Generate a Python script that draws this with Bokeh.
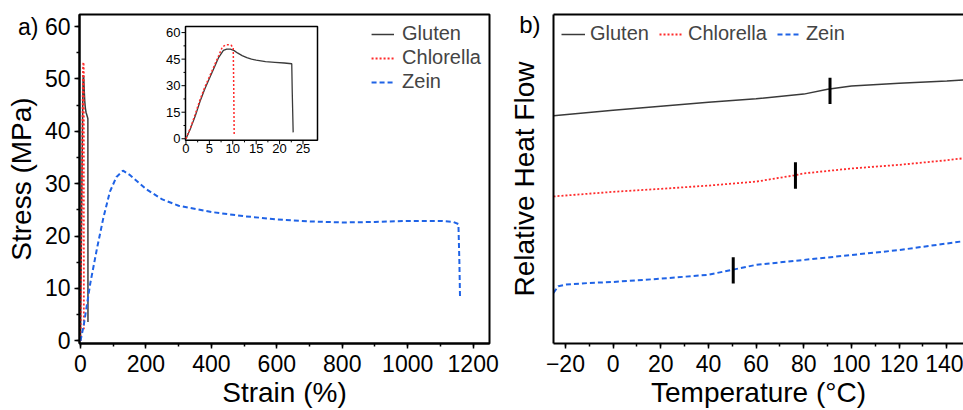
import numpy as np
from bokeh.plotting import figure
from bokeh.layouts import row
from bokeh.models import (Range1d, SingleIntervalTicker, FixedTicker, LinearAxis,
                          Legend, LegendItem)
from bokeh.core.properties import value
from bokeh.embed import file_html
from bokeh.resources import INLINE

FONT = "Liberation Sans"

# ---------------- data: tensile (panel a) ----------------
gluten_strain = [0, 1, 2, 3, 4, 5, 6, 7, 8, 8.7, 9.5, 10.3, 11, 12, 13, 14, 15, 17, 19, 21, 22.6, 22.7, 22.9]
gluten_stress = [0, 6, 13, 21, 28, 34, 40, 46, 50, 50.7, 50.6, 49.8, 48.5, 47, 45.8, 45, 44.4, 43.6, 43.2, 42.8, 42.4, 27, 3.6]

chl_strain = [0, 1, 2, 3, 4, 5, 6, 7, 7.8, 8.6, 9.6, 10.1, 10.2, 10.3]
chl_stress = [0, 6.5, 14, 22, 29, 35, 41, 47, 52, 53.2, 53.0, 51.5, 30, 2.2]

zein_strain = [0, 10, 20, 30, 50, 70, 90, 110, 130, 150, 200, 250, 300, 400, 500, 600, 700, 800,
               900, 1000, 1100, 1140, 1155, 1158, 1160]
zein_stress = [0, 3, 7, 11, 17.5, 23.5, 28.5, 31.3, 32.5, 31.7, 29, 27, 25.8, 24.6, 23.8, 23.2, 22.8, 22.6,
               22.7, 22.9, 22.9, 22.7, 22.3, 15, 8]

inset_yticks = [0, 15, 30, 45, 60]
inset_xticks = [0, 5, 10, 15, 20, 25]

panel_a_label = "a)"
panel_b_label = "b)"

# ---------------- data: DSC (panel b) ----------------
dsc_g_T = [-25, 0, 20, 40, 60, 80, 90, 100, 120, 140, 147]
dsc_g_H = [6.92, 7.09, 7.21, 7.33, 7.44, 7.58, 7.73, 7.83, 7.91, 7.98, 8.01]

dsc_c_T = [-25, 0, 20, 40, 60, 76, 80, 100, 120, 140, 147]
dsc_c_H = [4.47, 4.61, 4.70, 4.80, 4.92, 5.11, 5.17, 5.32, 5.43, 5.57, 5.63]

dsc_z_T = [-25, -23, -20, -10, 0, 20, 40, 50, 60, 80, 100, 120, 130, 140, 147]
dsc_z_H = [1.54, 1.74, 1.79, 1.84, 1.87, 1.97, 2.09, 2.24, 2.39, 2.54, 2.69, 2.84, 2.94, 3.04, 3.11]

tg_T = [91, 76.5, 50.4]
tg_lo = [7.28, 4.70, 1.82]
tg_hi = [8.08, 5.51, 2.62]

C_G = "#3a3a3a"
C_C = "#ff2a2a"
C_Z = "#1f63e6"
DASH_C = "2 2"
DASH_Z = "5 3"


def style_axis(ax, tick_size="23px", label_size="28px"):
    ax.axis_line_color = "black"
    ax.axis_line_width = 2
    ax.major_tick_line_color = "black"
    ax.major_tick_line_width = 1.5
    ax.minor_tick_line_color = "black"
    ax.minor_tick_line_width = 1.5
    ax.major_tick_in = 0
    ax.major_tick_out = 5
    ax.minor_tick_in = 0
    ax.minor_tick_out = 3
    ax.major_label_text_font = FONT
    ax.major_label_text_font_size = tick_size
    ax.major_label_text_color = "black"
    ax.axis_label_text_font = FONT
    ax.axis_label_text_font_size = label_size
    ax.axis_label_text_font_style = "normal"
    ax.axis_label_text_color = "black"


# ================= panel a =================
XR = (-3, 1250)
YR = (-0.5, 62.3)
p1 = figure(width=503, height=410, x_range=Range1d(*XR), y_range=Range1d(*YR),
            output_backend="svg", toolbar_location=None,
            min_border_left=79, min_border_right=14, min_border_top=14, min_border_bottom=64)
p1.xgrid.visible = False
p1.ygrid.visible = False
p1.outline_line_color = "black"
p1.outline_line_width = 2
p1.background_fill_color = "white"
p1.border_fill_color = "white"
p1.xaxis.ticker = SingleIntervalTicker(interval=200, num_minor_ticks=2)
p1.yaxis.ticker = SingleIntervalTicker(interval=10, num_minor_ticks=2)
style_axis(p1.xaxis[0])
style_axis(p1.yaxis[0])
p1.xaxis.axis_label = "Strain (%)"
p1.yaxis.axis_label = "Stress (MPa)"
p1.xaxis.major_label_standoff = 6
p1.xaxis.axis_label_standoff = 2
p1.yaxis.major_label_standoff = 4
p1.yaxis.axis_label_standoff = -22
# panel letter placed just left of the top tick label
p1.yaxis.major_label_overrides = {60: panel_a_label + " 60"}

rg = p1.line(gluten_strain, gluten_stress, color=C_G, line_width=1.5)
rc = p1.line(chl_strain, chl_stress, color=C_C, line_width=1.8, line_dash=DASH_C)
rz = p1.line(zein_strain, zein_stress, color=C_Z, line_width=2, line_dash=DASH_Z)

leg1 = Legend(items=[LegendItem(label="Gluten", renderers=[rg]),
                     LegendItem(label="Chlorella", renderers=[rc]),
                     LegendItem(label="Zein", renderers=[rz])],
              location="top_right", orientation="vertical",
              label_text_font=FONT, label_text_font_size="20px",
              glyph_width=23, glyph_height=20, label_height=20, spacing=1,
              label_standoff=8, margin=8, padding=5,
              border_line_color=None, background_fill_alpha=0)
p1.add_layout(leg1)

# ---- inset drawn via extra ranges ----
IX = (-0.1, 28.1)
IY = (-0.9, 63.5)
fx0, fx1 = (185 - 79) / 410, (317 - 79) / 410
fy0, fy1 = (346 - 141) / 332, (346 - 26) / 332
wx = (IX[1] - IX[0]) / (fx1 - fx0)
wy = (IY[1] - IY[0]) / (fy1 - fy0)
xs0 = IX[0] - fx0 * wx
ys0 = IY[0] - fy0 * wy
p1.extra_x_ranges = {"ins": Range1d(xs0, xs0 + wx)}
p1.extra_y_ranges = {"ins": Range1d(ys0, ys0 + wy)}
kw = dict(x_range_name="ins", y_range_name="ins")

p1.quad(left=[IX[0]], right=[IX[1]], bottom=[IY[0]], top=[IY[1]],
        fill_color="white", line_color="black", line_width=1.5, **kw)
p1.line(gluten_strain, gluten_stress, color=C_G, line_width=1.3, **kw)
p1.line(chl_strain, chl_stress, color=C_C, line_width=1.5, line_dash=DASH_C, **kw)

# inset ticks
iy_minor = [(a + b) / 2 for a, b in zip(inset_yticks[:-1], inset_yticks[1:])]
ix_minor = [(a + b) / 2 for a, b in zip(inset_xticks[:-1], inset_xticks[1:])]
p1.ray(x=[IX[0]] * len(inset_yticks), y=inset_yticks, length=4, length_units="screen",
       angle=np.pi, color="black", line_width=1, **kw)
p1.ray(x=[IX[0]] * len(iy_minor), y=iy_minor, length=2, length_units="screen",
       angle=np.pi, color="black", line_width=1, **kw)
p1.ray(x=inset_xticks, y=[IY[0]] * len(inset_xticks), length=4, length_units="screen",
       angle=-np.pi / 2, color="black", line_width=1, **kw)
p1.ray(x=ix_minor, y=[IY[0]] * len(ix_minor), length=2, length_units="screen",
       angle=-np.pi / 2, color="black", line_width=1, **kw)
p1.text(x=[IX[0]] * len(inset_yticks), y=inset_yticks, text=[str(t) for t in inset_yticks],
        x_offset=-5, text_align="right", text_baseline="middle",
        text_font=value(FONT), text_font_size="13px", text_color="black", **kw)
p1.text(x=inset_xticks, y=[IY[0]] * len(inset_xticks), text=[str(t) for t in inset_xticks],
        y_offset=4, text_align="center", text_baseline="top",
        text_font=value(FONT), text_font_size="13px", text_color="black", **kw)

# ================= panel b =================
p2 = figure(width=460, height=410, x_range=Range1d(-25, 147), y_range=Range1d(0, 10),
            output_backend="svg", toolbar_location=None,
            min_border_left=50, min_border_right=0, min_border_top=14, min_border_bottom=64)
p2.xgrid.visible = False
p2.ygrid.visible = False
p2.outline_line_color = None
p2.background_fill_color = "white"
p2.border_fill_color = "white"
p2.xaxis.ticker = SingleIntervalTicker(interval=20, num_minor_ticks=2)
style_axis(p2.xaxis[0])
p2.xaxis.axis_label = "Temperature (°C)"
p2.xaxis.major_label_standoff = 6
p2.xaxis.axis_label_standoff = 2
style_axis(p2.yaxis[0], tick_size="24px")
# only one "tick": carries the panel letter at the top left
p2.yaxis.ticker = FixedTicker(ticks=[9.7])
p2.yaxis.major_label_overrides = {9.7: panel_b_label}
p2.yaxis.major_tick_out = 0
p2.yaxis.minor_tick_out = 0
p2.yaxis.major_label_standoff = 13
p2.yaxis.axis_label = "Relative Heat Flow"
p2.yaxis.axis_label_standoff = -24
top_ax = LinearAxis(ticker=FixedTicker(ticks=[]), axis_line_width=2, axis_line_color="black")
p2.add_layout(top_ax, "above")

g2 = p2.line(dsc_g_T, dsc_g_H, color=C_G, line_width=1.5)
c2 = p2.line(dsc_c_T, dsc_c_H, color=C_C, line_width=1.8, line_dash=DASH_C)
z2 = p2.line(dsc_z_T, dsc_z_H, color=C_Z, line_width=2, line_dash=DASH_Z)
p2.segment(x0=tg_T, y0=tg_lo, x1=tg_T, y1=tg_hi, color="black", line_width=3)

leg2 = Legend(items=[LegendItem(label="Gluten", renderers=[g2]),
                     LegendItem(label="Chlorella", renderers=[c2]),
                     LegendItem(label="Zein", renderers=[z2])],
              location="top_left", orientation="horizontal",
              label_text_font=FONT, label_text_font_size="20px",
              glyph_width=24, glyph_height=20, label_height=20, spacing=10,
              label_standoff=5, margin=8, padding=4,
              border_line_color=None, background_fill_alpha=0)
p2.add_layout(leg2)

layout = row(p1, p2, spacing=0)
open("out.html", "w").write(file_html(layout, INLINE))
